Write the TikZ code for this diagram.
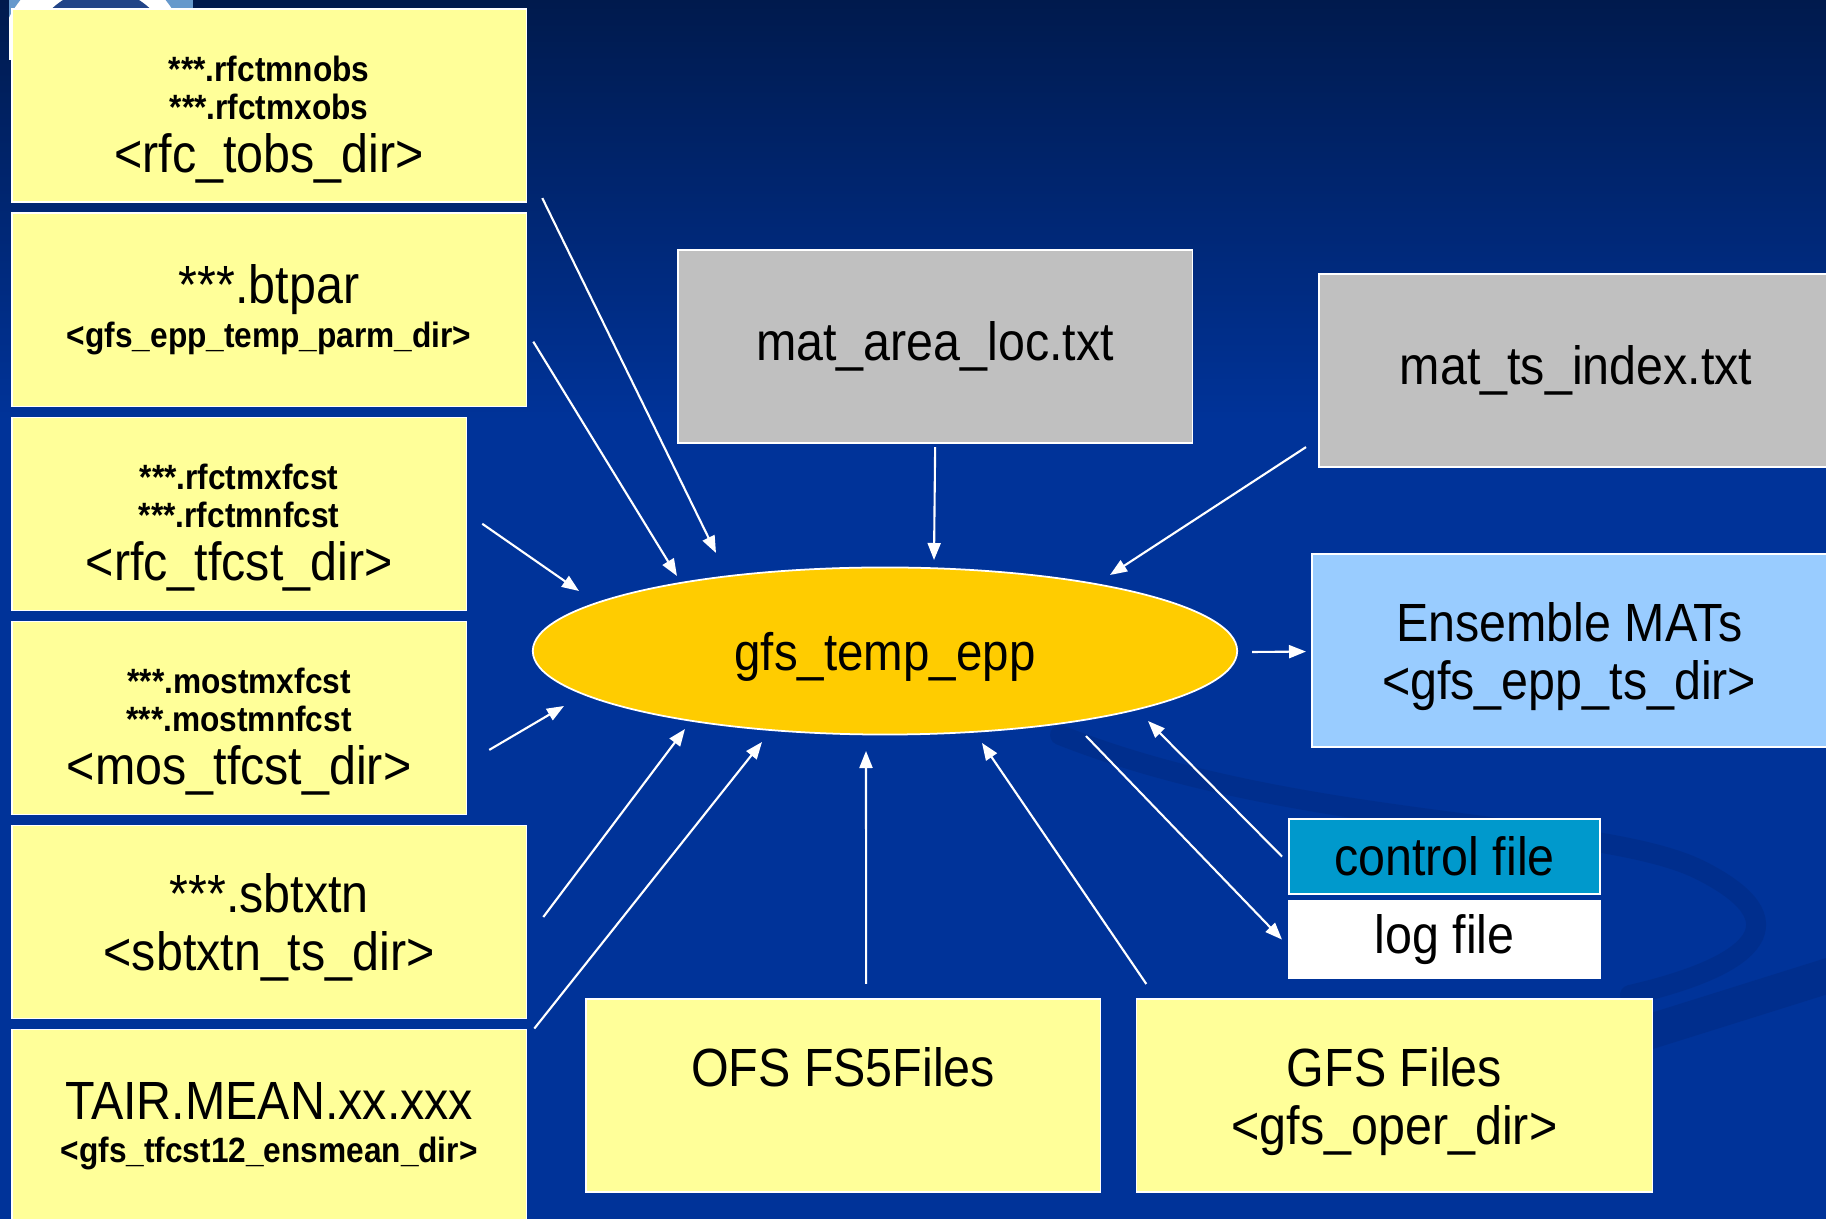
\documentclass[tikz,border=0pt]{standalone}
\usepackage{fontspec}
\setmainfont{Liberation Sans}[FakeStretch=0.9]
\usetikzlibrary{arrows.meta, positioning, shapes.geometric, calc}
\definecolor{cyellow}{HTML}{FFFF99}
\definecolor{cgrey}{HTML}{C0C0C0}
\definecolor{cblue}{HTML}{99CCFF}
\definecolor{ccyan}{HTML}{0099CC}
\definecolor{corange}{HTML}{FFCC00}
\definecolor{cbg}{HTML}{003399}
\definecolor{cbgtop}{HTML}{001A4D}
\definecolor{cswirl}{HTML}{002A80}
\definecolor{clogo}{HTML}{6699CC}
\definecolor{clogodark}{HTML}{224488}
\newcommand{\txtbig}{\fontsize{15.3}{16.5}\selectfont}
\newcommand{\txtsmall}{\bfseries\fontsize{10}{11}\selectfont}
\tikzset{
  every picture/.style={line width=0.6pt},
  box/.style={draw=white, line width=0.4pt, fill=#1, align=center, inner sep=0pt, outer sep=0pt, text=black,
              minimum width=5.14cm, minimum height=1.93cm, font=\txtbig},
  box/.default=cyellow,
  narrow/.style={minimum width=4.54cm},
  smallbox/.style={minimum width=3.11cm, minimum height=0.75cm},
  arrow/.style={-{Triangle[length=0.17cm, width=0.13cm]}, draw=white, line width=0.6pt},
  swirl/.style={draw=cswirl, opacity=0.45, line cap=round},
}

\begin{document}
\begin{tikzpicture}[x=0.01cm, y=-0.01cm]
  \useasboundingbox (0,0) rectangle (1826,1219);
  \clip (0,0) rectangle (1826,1219);
  % background
  \fill[cbg] (0,0) rectangle (1826,1219);
  \shade[top color=cbgtop, bottom color=cbg] (0,0) rectangle (1826,420);
  \draw[swirl, line width=0.2cm] (1060,735) .. controls (1300,830) and (1600,820) .. (1700,870)
        .. controls (1800,920) and (1760,965) .. (1630,995);
  \draw[swirl, line width=0.35cm] (1400,1110) -- (1840,972);
  \begin{scope}
    \clip (9,-10) rectangle (193,60);
    \fill[clogo] (9,-10) rectangle (193,60);
    \fill[white] (93,60) circle[radius=94];
    \fill[clogodark] (101,60) circle[radius=71];
  \end{scope}

  % input files, left column
  \node[box, anchor=north west] (tobs) at (12,9)
    {\mbox{}\\[-1.3pt]\txtsmall ***.rfctmnobs\\[-5.7pt]\txtsmall ***.rfctmxobs\\[-1.3pt]<rfc\_tobs\_dir>};
  \node[box, below right=0.11cm and 0cm of tobs.south west] (btpar)
    {***.btpar\\[-4.2pt]\txtsmall <gfs\_epp\_temp\_parm\_dir>};
  \node[box, narrow, below right=0.11cm and 0cm of btpar.south west] (tfcst)
    {\mbox{}\\[-1.3pt]\txtsmall ***.rfctmxfcst\\[-5.7pt]\txtsmall ***.rfctmnfcst\\[-1.3pt]<rfc\_tfcst\_dir>};
  \node[box, narrow, below right=0.11cm and 0cm of tfcst.south west] (mos)
    {\mbox{}\\[-1.3pt]\txtsmall ***.mostmxfcst\\[-5.7pt]\txtsmall ***.mostmnfcst\\[-1.3pt]<mos\_tfcst\_dir>};
  \node[box, text depth=0pt, below right=0.11cm and 0cm of mos.south west] (sbtxtn)
    {***.sbtxtn\\<sbtxtn\_ts\_dir>};
  \node[box, below right=0.11cm and 0cm of sbtxtn.south west] (tair)
    {TAIR.MEAN.xx.xxx\\[-4.4pt]\txtsmall <gfs\_tfcst12\_ensmean\_dir>};

  % other files
  \node[box=cgrey, anchor=north west] (matarea) at (678,250) {mat\_area\_loc.txt};
  \node[box=cgrey, anchor=north west] (matts) at (1319,274) {mat\_ts\_index.txt};
  \node[box=cblue, text depth=0pt, anchor=north west] (ens) at (1312,554) {Ensemble MATs\\<gfs\_epp\_ts\_dir>};
  \node[box=ccyan, smallbox, anchor=north west] (ctrl) at (1289,819) {control file};
  \node[box=white, smallbox, minimum height=0.77cm, below right=0.07cm and 0cm of ctrl.south west] (logf) {log file};
  \node[box, anchor=north west] (ofs) at (586,999) {OFS FS5Files\\\mbox{}};
  \node[box, text depth=0pt, minimum width=5.16cm, right=0.36cm of ofs] (gfs) {GFS Files\\<gfs\_oper\_dir>};

  % program
  \node[ellipse, draw=white, line width=0.5pt, fill=corange, minimum width=7.04cm, minimum height=1.67cm,
        inner sep=0pt, text depth=0pt, font=\fontsize{15}{17}\selectfont] (epp) at (885,651) {gfs\_temp\_epp};

  % connectors
  \draw[arrow] ($(tobs.south east)+(16,-4)$) -- ($(epp)+(-169,-98)$);
  \draw[arrow] ($(btpar.east)+(7,32)$) -- ($(epp)+(-208,-75)$);
  \draw[arrow] ($(tfcst.east)+(16,10)$) -- ($(epp)+(-306,-60)$);
  \draw[arrow] ($(mos.east)+(23,32)$) -- ($(epp)+(-321,55)$);
  \draw[arrow] ($(sbtxtn.east)+(17,-5)$) -- ($(epp)+(-200,78)$);
  \draw[arrow] ($(tair.north east)+(8,-1)$) -- ($(epp)+(-123,91)$);
  \draw[arrow] ($(ofs.north)+(23,-15)$) -- ($(epp)+(-19,100)$);
  \draw[arrow] ($(gfs.north west)+(10,-15)$) -- ($(epp)+(97,92)$);
  \draw[arrow] ($(matarea.south)+(0,4)$) -- ($(epp)+(49,-91)$);
  \draw[arrow] ($(matts.south west)+(-13,-20)$) -- ($(epp)+(225,-76)$);
  \draw[arrow] ($(epp.east)+(14,1)$) -- ($(ens.west)+(-6,1)$);
  \draw[arrow] ($(ctrl.west)+(-7,0)$) -- ($(epp)+(263,70)$);
  \draw[arrow] ($(epp)+(201,85)$) -- ($(logf.west)+(-7,0)$);
\end{tikzpicture}
\end{document}
